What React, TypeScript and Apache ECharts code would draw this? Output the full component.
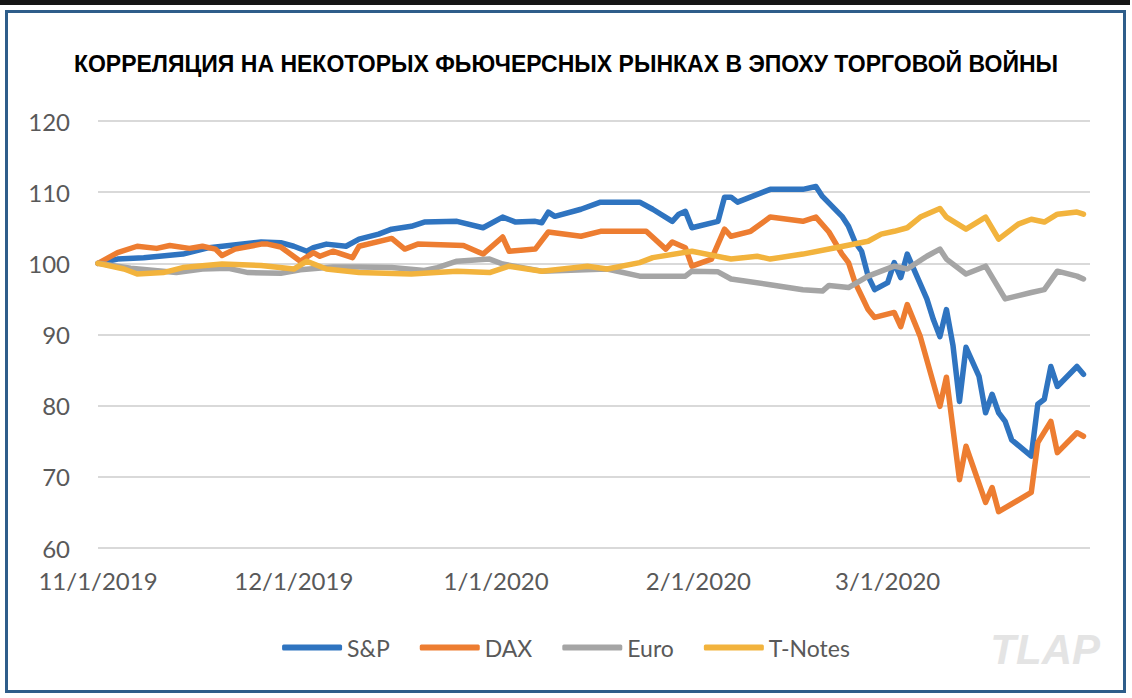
import React, { useEffect, useRef } from "react";
import * as echarts from "echarts";

const TITLE = "КОРРЕЛЯЦИЯ НА НЕКОТОРЫХ ФЬЮЧЕРСНЫХ РЫНКАХ В ЭПОХУ ТОРГОВОЙ ВОЙНЫ";
const SERIES_NAMES = ["S&P", "DAX", "Euro", "T-Notes"];
const COLORS = ["#2F74C0", "#ED7D31", "#A5A5A5", "#F2B33D"];
const X_TICKS = ["2019-11-01", "2019-12-01", "2020-01-01", "2020-02-01", "2020-03-01"];
const X_MIN = "2019-11-01";
const X_MAX = "2020-04-01";
const Y_MIN = 60;
const Y_MAX = 120;
const Y_STEP = 10;

const SP: [string, number][] = [
  ["2019-11-01", 100], ["2019-11-04", 100.6], ["2019-11-08", 100.8], ["2019-11-14", 101.3],
  ["2019-11-18", 102.2], ["2019-11-26", 103.0], ["2019-11-29", 102.9], ["2019-12-01", 102.4],
  ["2019-12-03", 101.7], ["2019-12-04", 102.2], ["2019-12-06", 102.7], ["2019-12-09", 102.4],
  ["2019-12-11", 103.4], ["2019-12-14", 104.1], ["2019-12-16", 104.8], ["2019-12-19", 105.2],
  ["2019-12-21", 105.8], ["2019-12-26", 105.9], ["2019-12-30", 105.0], ["2020-01-02", 106.5],
  ["2020-01-04", 105.8], ["2020-01-07", 105.9], ["2020-01-08", 105.7], ["2020-01-09", 107.2],
  ["2020-01-10", 106.6], ["2020-01-14", 107.6], ["2020-01-17", 108.6], ["2020-01-23", 108.6],
  ["2020-01-25", 107.6], ["2020-01-28", 105.9], ["2020-01-29", 106.9], ["2020-01-30", 107.3],
  ["2020-01-31", 105.0], ["2020-02-04", 105.9], ["2020-02-05", 109.3], ["2020-02-06", 109.3],
  ["2020-02-07", 108.6], ["2020-02-12", 110.4], ["2020-02-17", 110.4], ["2020-02-19", 110.8],
  ["2020-02-20", 109.4], ["2020-02-23", 106.6], ["2020-02-24", 105.2], ["2020-02-25", 103.0],
  ["2020-02-26", 101.7], ["2020-02-27", 98.2], ["2020-02-28", 96.3], ["2020-03-01", 97.3],
  ["2020-03-02", 100.1], ["2020-03-03", 98.0], ["2020-03-04", 101.3], ["2020-03-05", 99.2],
  ["2020-03-07", 95.0], ["2020-03-08", 92.1], ["2020-03-09", 89.7], ["2020-03-10", 93.5],
  ["2020-03-11", 88.5], ["2020-03-12", 80.6], ["2020-03-13", 88.2], ["2020-03-15", 84.1],
  ["2020-03-16", 79.0], ["2020-03-17", 81.6], ["2020-03-18", 79.0], ["2020-03-19", 77.8],
  ["2020-03-20", 75.2], ["2020-03-23", 72.9], ["2020-03-24", 80.2], ["2020-03-25", 80.9],
  ["2020-03-26", 85.5], ["2020-03-27", 82.7], ["2020-03-30", 85.5], ["2020-03-31", 84.4],
];

const DAX: [string, number][] = [
  ["2019-11-01", 100], ["2019-11-04", 101.5], ["2019-11-07", 102.4], ["2019-11-10", 102.1],
  ["2019-11-12", 102.5], ["2019-11-15", 102.1], ["2019-11-17", 102.4], ["2019-11-19", 102.0],
  ["2019-11-20", 101.1], ["2019-11-22", 102.0], ["2019-11-26", 102.7], ["2019-11-27", 102.7],
  ["2019-11-29", 102.3], ["2019-12-02", 100.3], ["2019-12-04", 101.5], ["2019-12-05", 101.0],
  ["2019-12-07", 101.7], ["2019-12-10", 100.8], ["2019-12-11", 102.4], ["2019-12-16", 103.5],
  ["2019-12-18", 102.0], ["2019-12-20", 102.7], ["2019-12-27", 102.5], ["2019-12-30", 101.3],
  ["2020-01-02", 103.7], ["2020-01-03", 101.7], ["2020-01-07", 102.0], ["2020-01-09", 104.4],
  ["2020-01-14", 103.8], ["2020-01-17", 104.5], ["2020-01-24", 104.5], ["2020-01-27", 102.0],
  ["2020-01-28", 103.0], ["2020-01-30", 102.2], ["2020-01-31", 99.6], ["2020-02-03", 100.6],
  ["2020-02-05", 104.8], ["2020-02-06", 103.8], ["2020-02-09", 104.5], ["2020-02-12", 106.5],
  ["2020-02-17", 105.9], ["2020-02-19", 106.5], ["2020-02-21", 104.4], ["2020-02-23", 101.3],
  ["2020-02-24", 100.1], ["2020-02-25", 97.3], ["2020-02-26", 95.4], ["2020-02-27", 93.5],
  ["2020-02-28", 92.4], ["2020-03-02", 93.1], ["2020-03-03", 91.1], ["2020-03-04", 94.2],
  ["2020-03-06", 89.7], ["2020-03-09", 79.9], ["2020-03-10", 84.0], ["2020-03-12", 69.6],
  ["2020-03-13", 74.3], ["2020-03-16", 66.4], ["2020-03-17", 68.5], ["2020-03-18", 65.1],
  ["2020-03-23", 67.8], ["2020-03-24", 74.8], ["2020-03-26", 77.8], ["2020-03-27", 73.4],
  ["2020-03-30", 76.2], ["2020-03-31", 75.7],
];

const EURO: [string, number][] = [
  ["2019-11-01", 100], ["2019-11-06", 99.3], ["2019-11-13", 98.7], ["2019-11-17", 99.2],
  ["2019-11-21", 99.3], ["2019-11-24", 98.7], ["2019-11-29", 98.6], ["2019-12-02", 99.1],
  ["2019-12-07", 99.5], ["2019-12-11", 99.5], ["2019-12-16", 99.4], ["2019-12-21", 99.0],
  ["2019-12-23", 99.4], ["2019-12-26", 100.3], ["2019-12-31", 100.6], ["2020-01-02", 99.9],
  ["2020-01-08", 98.9], ["2020-01-18", 99.2], ["2020-01-23", 98.2], ["2020-01-30", 98.2],
  ["2020-01-31", 98.9], ["2020-02-04", 98.8], ["2020-02-06", 97.8], ["2020-02-12", 97.0],
  ["2020-02-17", 96.3], ["2020-02-20", 96.1], ["2020-02-21", 96.9], ["2020-02-24", 96.6],
  ["2020-02-27", 98.2], ["2020-03-02", 99.6], ["2020-03-04", 99.2], ["2020-03-07", 101.0],
  ["2020-03-09", 102.0], ["2020-03-10", 100.6], ["2020-03-13", 98.5], ["2020-03-16", 99.6],
  ["2020-03-19", 95.0], ["2020-03-23", 95.9], ["2020-03-25", 96.3], ["2020-03-27", 98.9],
  ["2020-03-30", 98.2], ["2020-03-31", 97.8],
];

const TNOTES: [string, number][] = [
  ["2019-11-01", 100], ["2019-11-05", 99.2], ["2019-11-07", 98.5], ["2019-11-11", 98.7],
  ["2019-11-14", 99.4], ["2019-11-20", 99.9], ["2019-11-26", 99.7], ["2019-12-01", 99.2],
  ["2019-12-03", 100.3], ["2019-12-06", 99.2], ["2019-12-11", 98.7], ["2019-12-19", 98.5],
  ["2019-12-26", 98.9], ["2019-12-31", 98.7], ["2020-01-03", 99.6], ["2020-01-08", 98.9],
  ["2020-01-15", 99.6], ["2020-01-18", 99.2], ["2020-01-23", 100.1], ["2020-01-25", 100.8],
  ["2020-01-31", 101.7], ["2020-02-06", 100.6], ["2020-02-10", 101.0], ["2020-02-12", 100.6],
  ["2020-02-17", 101.3], ["2020-02-22", 102.2], ["2020-02-27", 103.1], ["2020-02-29", 104.1],
  ["2020-03-02", 104.5], ["2020-03-04", 105.0], ["2020-03-06", 106.5], ["2020-03-09", 107.7],
  ["2020-03-10", 106.5], ["2020-03-13", 104.8], ["2020-03-16", 106.5], ["2020-03-18", 103.4],
  ["2020-03-21", 105.5], ["2020-03-23", 106.2], ["2020-03-25", 105.8], ["2020-03-27", 106.9],
  ["2020-03-30", 107.2], ["2020-03-31", 106.9],
];

const ALL_DATA = [SP, DAX, EURO, TNOTES];

function toTs(s: string): number {
  const [y, m, d] = s.split("-").map(Number);
  return Date.UTC(y, m - 1, d);
}

function fmtDate(v: number): string {
  const d = new Date(v);
  return `${d.getUTCMonth() + 1}/${d.getUTCDate()}/${d.getUTCFullYear()}`;
}

export default function App() {
  const ref = useRef<HTMLDivElement>(null);

  useEffect(() => {
    if (!ref.current) return;
    const chart = echarts.init(ref.current, undefined, { renderer: "svg" });
    const labelFont = "Lato, 'Open Sans', sans-serif";
    const tickValues = X_TICKS.map(toTs);
    chart.setOption({
      animation: false,
      title: {
        text: TITLE,
        left: "center",
        top: 47,
        textStyle: {
          fontFamily: "'Liberation Sans', Arial, sans-serif",
          fontWeight: "bold",
          fontSize: 23,
          color: "#000",
        },
      },
      legend: {
        data: SERIES_NAMES,
        left: "center",
        top: 631,
        icon: "roundRect",
        itemWidth: 60,
        itemHeight: 6,
        itemGap: 30,
        textStyle: { fontFamily: labelFont, fontSize: 23, color: "#595959" },
      },
      grid: { left: 98, right: 42, top: 121, bottom: 150, containLabel: false },
      xAxis: {
        type: "value",
        min: toTs(X_MIN),
        max: toTs(X_MAX),
        axisLine: { show: false },
        axisTick: { show: false },
        splitLine: { show: false },
        axisLabel: {
          customValues: tickValues,
          formatter: (v: number) => fmtDate(v),
          fontFamily: labelFont,
          fontSize: 24,
          color: "#595959",
          margin: 20,
          hideOverlap: false,
        },
      },
      yAxis: {
        type: "value",
        min: Y_MIN,
        max: Y_MAX,
        interval: Y_STEP,
        axisLine: { show: false },
        axisTick: { show: false },
        axisLabel: { fontFamily: labelFont, fontSize: 24, color: "#595959", margin: 28 },
        splitLine: { lineStyle: { color: "#D9D9D9", width: 2 } },
      },
      graphic: [
        {
          type: "text",
          right: 32,
          top: 628,
          style: {
            text: "TLAP",
            fontFamily: "'Liberation Sans Narrow', 'Liberation Sans', sans-serif",
            fontStyle: "italic",
            fontWeight: "bold",
            fontSize: 42,
            fill: "#E4E4E4",
          },
        },
      ],
      series: SERIES_NAMES.map((name, i) => ({
        name,
        type: "line",
        showSymbol: false,
        symbol: "none",
        data: ALL_DATA[i].map(([d, v]) => [toTs(d), v]),
        lineStyle: { color: COLORS[i], width: 5.5, cap: "round", join: "round" },
        itemStyle: { color: COLORS[i] },
      })),
    });
    return () => chart.dispose();
  }, []);

  return (
    <div style={{ position: "absolute", left: 0, top: 0, width: 1132, height: 698, background: "#fff" }}>
      <div style={{ position: "absolute", left: 0, top: 0, width: 1130, height: 5, background: "#151515" }} />
      <div
        style={{
          position: "absolute",
          left: 5,
          top: 10,
          width: 1121,
          height: 683,
          border: "3px solid #2E5D8A",
          boxSizing: "border-box",
        }}
      />
      <div ref={ref} style={{ position: "absolute", left: 0, top: 0, width: 1132, height: 698 }} />
    </div>
  );
}
